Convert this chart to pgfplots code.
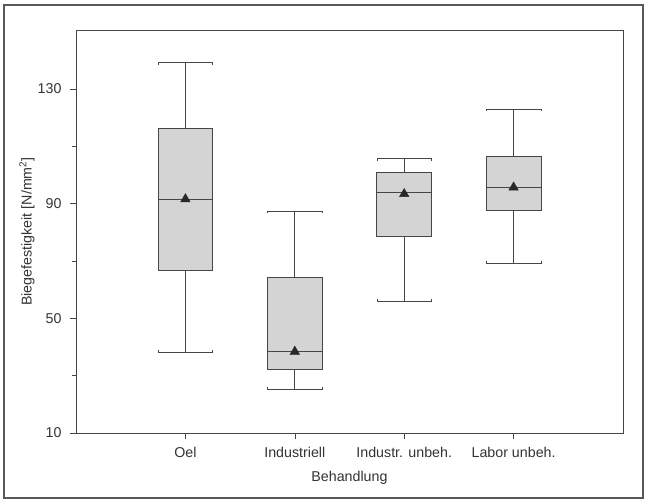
\documentclass[border=0pt]{standalone}
\usepackage{pgfplots}
\pgfplotsset{compat=1.18}
\usepackage{fontspec}
\setmainfont{Liberation Sans}
\definecolor{boxfill}{RGB}{212,212,212}
\definecolor{edge}{RGB}{70,70,70}
\definecolor{meanc}{RGB}{40,40,40}
\begin{document}
\begin{tikzpicture}
\useasboundingbox (-76bp,-68bp) rectangle (570bp,433bp);
\draw[line width=1.3bp, color=black!65] (-72bp,-65bp) rectangle (567bp,428bp);
\begin{axis}[
  width=547bp, height=403bp, scale only axis,
  xmin=0, xmax=5, ymin=10, ymax=150.6,
  xtick={1,2,3,4},
  xticklabels={Oel, Industriell, Industr. unbeh., Labor unbeh.},
  ytick={10,50,90,130}, minor ytick={30,70,110},
  tick align=outside, xtick pos=bottom, ytick pos=left,
  major tick length=6bp, minor tick length=4bp,
  tick style={color=edge, line width=0.6bp},
  axis line style={color=edge, line width=0.8bp},
  /pgf/number format/assume math mode=true,
  ticklabel style={font=\fontsize{14.3}{16}\selectfont, color=black!80},
  yticklabel style={xshift=-5bp},
  xticklabel style={yshift=-5bp},
  label style={font=\fontsize{14.3}{16}\selectfont, color=black!80},
  xlabel={Behandlung},
  ylabel={Biegefestigkeit [N/mm\textsuperscript{2}]},
  xlabel style={at={([yshift=-45bp]axis description cs:0.5,0)}, anchor=center},
  ylabel style={at={([xshift=-49bp]axis description cs:0,0.5)}, anchor=center},
  clip=false,
]
% ---- Oel ----
\addplot[draw=edge, line width=0.7bp] coordinates {(1,116.3) (1,139.2)};
\addplot[draw=edge, line width=0.7bp] coordinates {(1,66.9) (1,38.1)};
\addplot[draw=edge, line width=0.7bp] coordinates {(0.75,138.4) (0.75,139.2) (1.25,139.2) (1.25,138.4)};
\addplot[draw=edge, line width=0.7bp] coordinates {(0.75,38.9) (0.75,38.1) (1.25,38.1) (1.25,38.9)};
\addplot[fill=boxfill, draw=edge, line width=0.8bp] coordinates {(0.75,66.9) (1.25,66.9) (1.25,116.3) (0.75,116.3)} -- cycle;
\addplot[draw=edge, line width=0.9bp] coordinates {(0.75,91.5) (1.25,91.5)};
% ---- Industriell ----
\addplot[draw=edge, line width=0.7bp] coordinates {(2,64.2) (2,87.5)};
\addplot[draw=edge, line width=0.7bp] coordinates {(2,32.2) (2,25.3)};
\addplot[draw=edge, line width=0.7bp] coordinates {(1.75,86.7) (1.75,87.5) (2.25,87.5) (2.25,86.7)};
\addplot[draw=edge, line width=0.7bp] coordinates {(1.75,26.1) (1.75,25.3) (2.25,25.3) (2.25,26.1)};
\addplot[fill=boxfill, draw=edge, line width=0.8bp] coordinates {(1.75,32.2) (2.25,32.2) (2.25,64.2) (1.75,64.2)} -- cycle;
\addplot[draw=edge, line width=0.9bp] coordinates {(1.75,38.4) (2.25,38.4)};
% ---- Industr. unbeh. ----
\addplot[draw=edge, line width=0.7bp] coordinates {(3,100.8) (3,105.8)};
\addplot[draw=edge, line width=0.7bp] coordinates {(3,78.5) (3,55.8)};
\addplot[draw=edge, line width=0.7bp] coordinates {(2.75,105.0) (2.75,105.8) (3.25,105.8) (3.25,105.0)};
\addplot[draw=edge, line width=0.7bp] coordinates {(2.75,56.6) (2.75,55.8) (3.25,55.8) (3.25,56.6)};
\addplot[fill=boxfill, draw=edge, line width=0.8bp] coordinates {(2.75,78.5) (3.25,78.5) (3.25,100.8) (2.75,100.8)} -- cycle;
\addplot[draw=edge, line width=0.9bp] coordinates {(2.75,93.8) (3.25,93.8)};
% ---- Labor unbeh. ----
\addplot[draw=edge, line width=0.7bp] coordinates {(4,106.6) (4,123.0)};
\addplot[draw=edge, line width=0.7bp] coordinates {(4,87.5) (4,69.2)};
\addplot[draw=edge, line width=0.7bp] coordinates {(3.75,122.2) (3.75,123.0) (4.25,123.0) (4.25,122.2)};
\addplot[draw=edge, line width=0.7bp] coordinates {(3.75,70.0) (3.75,69.2) (4.25,69.2) (4.25,70.0)};
\addplot[fill=boxfill, draw=edge, line width=0.8bp] coordinates {(3.75,87.5) (4.25,87.5) (4.25,106.6) (3.75,106.6)} -- cycle;
\addplot[draw=edge, line width=0.9bp] coordinates {(3.75,95.7) (4.25,95.7)};
% ---- means ----
\addplot[only marks, mark=triangle*, mark size=5.5bp, mark options={draw=meanc, fill=meanc}]
  coordinates {(1,91.6) (2,38.4) (3,93.4) (4,95.7)};
\end{axis}
\end{tikzpicture}
\end{document}
